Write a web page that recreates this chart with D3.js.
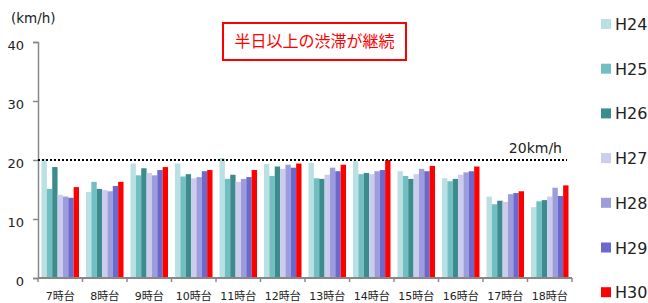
<!DOCTYPE html>
<html><head><meta charset="utf-8">
<script src="https://cdn.jsdelivr.net/npm/d3@7"></script>
<style>body{margin:0;background:#fff}svg{display:block;font-family:"DejaVu Sans","Noto Sans CJK JP",sans-serif}</style>
</head><body><svg id="c" width="648" height="303"></svg>
<script>
const categories = ["7時台","8時台","9時台","10時台","11時台","12時台","13時台","14時台","15時台","16時台","17時台","18時台"];
const seriesNames = ["H24","H25","H26","H27","H28","H29","H30"];
const H24 = [20.2,14.6,19.4,19.4,20.3,19.3,19.5,19.8,18.1,16.9,13.8,12.0];
const H25 = [15.1,16.3,17.4,17.2,16.8,17.3,16.9,17.6,17.3,16.4,12.5,13.0];
const H26 = [18.8,15.1,18.6,17.6,17.5,18.9,16.8,17.8,16.8,16.8,13.1,13.2];
const H27 = [14.1,14.9,17.8,16.9,16.3,18.5,17.5,17.6,17.6,17.5,12.9,13.8];
const H28 = [13.8,14.7,17.4,17.1,16.8,19.2,18.7,18.1,18.5,17.9,14.2,15.3];
const H29 = [13.6,15.6,18.3,18.1,17.1,18.7,18.1,18.3,18.1,18.1,14.4,13.9];
const H30 = [15.4,16.3,18.8,18.3,18.3,19.4,19.2,20.0,19.0,18.9,14.7,15.7];
const yTicks = [0,10,20,30,40];
const refValue = 20;
const refLabel = "20km/h";
const unitLabel = "(km/h)";
const title = "半日以上の渋滞が継続";
const colors = ["#b9e0e2","#72bfc3","#3c8c8e","#cccdee","#9d9cdd","#6b69cd","#ff0000"];
const seriesData = [H24,H25,H26,H27,H28,H29,H30];

(function(){
const svg = d3.select("#c");
const mL = 38, mR = 572, mT = 42, mB = 278;
const x = d3.scaleBand().domain(categories).range([mL,mR]).paddingInner(0).paddingOuter(0);
const x1 = d3.scaleBand().domain(seriesNames).range([3.5, x.bandwidth()-3.5]).padding(0);
const y = d3.scaleLinear().domain([0,40]).range([mB,mT]);

categories.forEach((c,i)=>{
  seriesNames.forEach((s,j)=>{
    svg.append("rect")
      .attr("x", x(c)+x1(s))
      .attr("y", y(seriesData[j][i]))
      .attr("width", x1.bandwidth())
      .attr("height", y(0)-y(seriesData[j][i]))
      .attr("fill", colors[j]);
  });
});

const yAxis = d3.axisLeft(y).tickValues(yTicks).tickSize(5).tickPadding(9);
const gy = svg.append("g").attr("transform",`translate(${mL},0)`).call(yAxis);
gy.select(".domain").attr("stroke","#888").attr("stroke-width",1.5);
gy.selectAll(".tick line").attr("stroke","#888").attr("stroke-width",1.5);
gy.selectAll(".tick text").attr("font-size",13).attr("fill","#222").attr("dy","0.55em").attr("font-family","DejaVu Sans");

const gx = svg.append("g").attr("transform",`translate(0,${mB})`);
gx.append("line").attr("x1",mL).attr("x2",mR).attr("stroke","#888").attr("stroke-width",2);
const bounds = categories.map(c=>x(c)).concat([mR]);
gx.selectAll("line.t").data(bounds).enter().append("line").attr("class","t")
  .attr("x1",d=>d).attr("x2",d=>d).attr("y1",0).attr("y2",4).attr("stroke","#888").attr("stroke-width",1.5);
gx.selectAll("text").data(categories).enter().append("text")
  .attr("x",d=>x(d)+x.bandwidth()/2).attr("y",22)
  .attr("text-anchor","middle").attr("font-size",11).attr("fill","#222").text(d=>d);

svg.append("line").attr("x1",mL).attr("x2",567).attr("y1",y(refValue)).attr("y2",y(refValue))
  .attr("stroke","#000").attr("stroke-width",2).attr("stroke-dasharray","2,2");
svg.append("text").attr("x",562).attr("y",y(refValue)-7).attr("text-anchor","end")
  .attr("font-size",14).attr("fill","#222").text(refLabel);

svg.append("text").attr("x",11).attr("y",23).attr("font-size",13.5).attr("fill","#222").text(unitLabel);

svg.append("rect").attr("x",223).attr("y",23).attr("width",183).attr("height",37)
  .attr("fill","#fff").attr("stroke","#ff0000").attr("stroke-width",2);
svg.append("text").attr("x",314.5).attr("y",47).attr("text-anchor","middle")
  .attr("font-size",16).attr("fill","#ff0000").attr("font-family","Noto Sans CJK JP").text(title);

seriesNames.forEach((s,j)=>{
  const cy = 24 + j*44.7;
  svg.append("rect").attr("x",601).attr("y",cy-5).attr("width",10).attr("height",10).attr("fill",colors[j]);
  svg.append("text").attr("x",615).attr("y",cy+6).attr("font-size",16).attr("fill","#222").text(s);
});
})();
</script></body></html>
